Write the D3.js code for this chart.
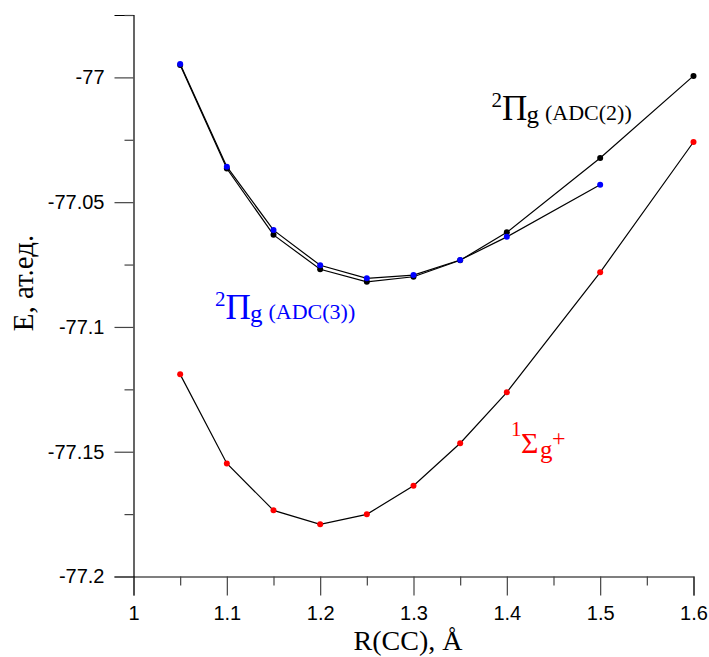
<!DOCTYPE html>
<html>
<head>
<meta charset="utf-8">
<script src="https://cdn.jsdelivr.net/npm/d3@7/dist/d3.min.js"></script>
<style>
  html, body { margin: 0; padding: 0; background: #fff; }
  svg { display: block; }
</style>
</head>
<body>
<svg id="chart" width="709" height="657"></svg>
<script>
// ---- data ----
const rADC2 = [1.05, 1.1, 1.15, 1.2, 1.25, 1.3, 1.35, 1.4, 1.5, 1.6];
const eADC2 = [-76.9950, -77.0365, -77.0631, -77.0769, -77.0819, -77.0799, -77.0733, -77.0621, -77.0323, -76.9994];
const rADC3 = [1.05, 1.1, 1.15, 1.2, 1.25, 1.3, 1.35, 1.4, 1.5];
const eADC3 = [-76.9946, -77.0358, -77.0612, -77.0753, -77.0805, -77.0792, -77.0732, -77.0639, -77.0430];
const rSigma = [1.05, 1.1, 1.15, 1.2, 1.25, 1.3, 1.35, 1.4, 1.5, 1.6];
const eSigma = [-77.1190, -77.1547, -77.1735, -77.1791, -77.1751, -77.1636, -77.1466, -77.1262, -77.0781, -77.0259];
const xMajor = [1, 1.1, 1.2, 1.3, 1.4, 1.5, 1.6];
const xMinor = [1.05, 1.15, 1.25, 1.35, 1.45, 1.55];
const xTickLabels = ["1", "1.1", "1.2", "1.3", "1.4", "1.5", "1.6"];
const yMajor = [-77, -77.05, -77.1, -77.15, -77.2];
const yMinor = [-76.975, -77.025, -77.075, -77.125, -77.175];
const yTickLabels = ["-77", "-77.05", "-77.1", "-77.15", "-77.2"];

const svg = d3.select("#chart");
const x = d3.scaleLinear().domain([1, 1.6]).range([133.5, 693.5]);
const y = d3.scaleLinear().domain([-77.2, -76.975]).range([576.5, 15]);

const tickFont = "'Liberation Sans', Arial, sans-serif";
const serif = "'Liberation Serif', 'Times New Roman', serif";

// axes
const gx = svg.append("g").attr("transform", `translate(0,${y(-77.2)})`);
gx.call(d3.axisBottom(x).tickValues(xMajor).tickSize(19).tickPadding(10)
  .tickFormat((d, i) => xTickLabels[i]));
const gxm = svg.append("g").attr("transform", `translate(0,${y(-77.2)})`);
gxm.call(d3.axisBottom(x).tickValues(xMinor).tickSize(9).tickFormat(""));
gxm.select(".domain").remove();

const gy = svg.append("g").attr("transform", `translate(${x(1)},0)`);
gy.call(d3.axisLeft(y).tickValues(yMajor).tickSize(19).tickPadding(10)
  .tickFormat((d, i) => yTickLabels[i]));
const gym = svg.append("g").attr("transform", `translate(${x(1)},0)`);
gym.call(d3.axisLeft(y).tickValues(yMinor).tickSize(9).tickFormat(""));
gym.select(".domain").remove();

svg.selectAll(".domain").attr("stroke", "#000").attr("stroke-width", 1.2);
svg.selectAll(".tick line").attr("stroke", "#444").attr("stroke-width", 1.2);
svg.selectAll(".tick text").attr("font-family", tickFont).attr("font-size", 20).attr("fill", "#000");
gx.selectAll(".tick text").attr("dy", "0.71em");

// axis titles
svg.append("text")
  .attr("x", 408).attr("y", 650)
  .attr("text-anchor", "middle")
  .attr("font-family", serif).attr("font-size", 28)
  .text("R(CC), Å");
svg.append("text")
  .attr("transform", "translate(33,283) rotate(-90)")
  .attr("text-anchor", "middle")
  .attr("font-family", serif).attr("font-size", 29)
  .text("E, ат.ед.");

// series
function drawSeries(xs, ys, color) {
  const pts = xs.map((d, i) => [d, ys[i]]);
  svg.append("path")
    .datum(pts)
    .attr("fill", "none").attr("stroke", "#000").attr("stroke-width", 1.2)
    .attr("d", d3.line().x(d => x(d[0])).y(d => y(d[1])));
  svg.append("g").selectAll("circle").data(pts).join("circle")
    .attr("cx", d => x(d[0])).attr("cy", d => y(d[1]))
    .attr("r", 3).attr("fill", color);
}
drawSeries(rSigma, eSigma, "#ff0000");
drawSeries(rADC2, eADC2, "#000000");
drawSeries(rADC3, eADC3, "#0000ff");

// annotations
function label(x0, base, sup, greek, greekSize, sub, tail, color) {
  const g = svg.append("g").attr("fill", color).attr("font-family", serif);
  g.append("text").attr("x", x0).attr("y", base - 13.3).attr("font-size", 21).text(sup);
  g.append("text").attr("x", x0 + 10.5).attr("y", base).attr("font-size", greekSize).text(greek);
  g.append("text").attr("x", x0 + 35).attr("y", base + 3).attr("font-size", 25).text(sub);
  if (tail) g.append("text").attr("x", x0 + 53.5).attr("y", base).attr("font-size", 22).text(tail);
}
label(491.5, 120, "2", "Π", 35, "g", "(ADC(2))", "#000000");
label(215, 319.3, "2", "Π", 35, "g", "(ADC(3))", "#0000ff");
// Sigma label
(function () {
  const g = svg.append("g").attr("fill", "#ff0000").attr("font-family", serif);
  g.append("text").attr("x", 511).attr("y", 436).attr("font-size", 21).text("1");
  g.append("text").attr("x", 521).attr("y", 452.7).attr("font-size", 30).text("Σ");
  g.append("text").attr("x", 540).attr("y", 458).attr("font-size", 25).text("g");
  g.append("text").attr("x", 552).attr("y", 446).attr("font-size", 24).text("+");
})();
</script>
</body>
</html>
